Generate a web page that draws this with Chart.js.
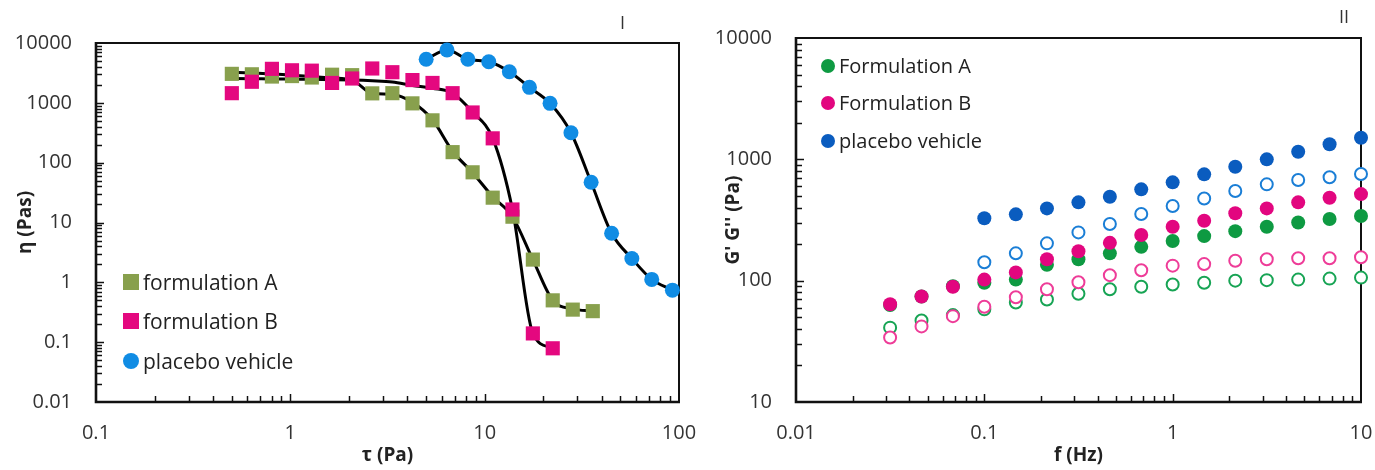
<!DOCTYPE html>
<html>
<head>
<meta charset="utf-8">
<title>Rheology</title>
<script src="https://cdn.jsdelivr.net/npm/chart.js@4.4.0/dist/chart.umd.min.js"></script>
<style>
  body { margin: 0; background: #fff; width: 1375px; height: 470px; position: relative; overflow: hidden; font-family: "Open Sans", sans-serif; }
  canvas { position: absolute; top: 0; }
  #flow { left: 0; }
  #osc { left: 700px; }
  .key { position: absolute; font-size: 20px; color: #222; line-height: 24px; white-space: nowrap; }
  .key.big { font-size: 21px; }
  .key i { position: absolute; }
  .tag { position: absolute; font-size: 18px; color: #333; line-height: 20px; }
</style>
</head>
<body>
<canvas id="flow" width="700" height="470"></canvas>
<canvas id="osc" width="675" height="470"></canvas>
<div class="tag" style="left:620px; top:12px;">I</div>
<div class="tag" style="left:1339px; top:6px;">II</div>
<div id="keys"></div>
<script>
// ---- panel I: viscosity vs shear stress ----
const tauA = [0.5, 0.634, 0.804, 1.02, 1.29, 1.64, 2.08, 2.64, 3.35, 4.25, 5.39, 6.84, 8.67, 11.0, 13.9, 17.7, 22.4, 28.4, 36.0];
const etaA = [3050, 3000, 2750, 2800, 2650, 2950, 2900, 1440, 1450, 980, 510, 150, 69, 26, 12.5, 2.4, 0.5, 0.35, 0.33];
const fitA = [3250, 3150, 3050, 2900, 2750, 2600, 2400, 1440, 1380, 1020, 520, 155, 68, 27, 12.5, 2.4, 0.5, 0.36, 0.33];

const tauB = [0.5, 0.634, 0.804, 1.02, 1.29, 1.64, 2.08, 2.64, 3.35, 4.25, 5.39, 6.84, 8.67, 11.0, 13.9, 17.7, 22.4];
const etaB = [1450, 2250, 3700, 3500, 3450, 2150, 2550, 3750, 3250, 2400, 2150, 1450, 690, 255, 16.5, 0.14, 0.079];
const fitB = [2550, 2530, 2510, 2490, 2470, 2440, 2400, 2330, 2220, 1950, 1750, 1450, 700, 255, 16.5, 0.14, 0.079];

const tauC = [5.0, 6.4, 8.2, 10.5, 13.4, 17.0, 21.7, 27.8, 35.3, 45, 57.2, 72.4, 92.5];
const etaC = [5340, 7640, 5340, 4860, 3310, 1815, 980, 316, 47, 6.6, 2.5, 1.12, 0.74];

const tauTicks = [0.1, 1, 10, 100];
const etaTicks = [0.01, 0.1, 1, 10, 100, 1000, 10000];

// ---- panel II: frequency sweep ----
const freq = [0.0316, 0.0464, 0.0681, 0.1, 0.147, 0.215, 0.316, 0.464, 0.681, 1, 1.47, 2.15, 3.16, 4.64, 6.81, 10];
const gpA = [63, 74, 90, 96, 102, 135, 150, 168, 190, 212, 233, 256, 278, 302, 322, 341];
const gppA = [41, 47, 52, 58, 66, 70, 78, 85, 89, 93, 96, 100, 101, 102, 104, 106];
const gpB = [64, 74, 89, 102, 117, 150, 175, 205, 238, 278, 312, 359, 394, 442, 482, 517];
const gppB = [34, 42, 51, 61, 73, 85, 97, 111, 122, 133, 137, 146, 150, 153, 153, 156];
const freqC = [0.1, 0.147, 0.215, 0.316, 0.464, 0.681, 1, 1.47, 2.15, 3.16, 4.64, 6.81, 10];
const gpC = [327, 352, 394, 442, 492, 566, 646, 752, 869, 1000, 1155, 1330, 1506];
const gppC = [142, 168, 203, 250, 293, 354, 412, 476, 548, 622, 675, 711, 757];

const freqTicks = [0.01, 0.1, 1, 10];
const modTicks = [10, 100, 1000, 10000];

const pts = (xs, ys) => xs.map((x, i) => ({ x: x, y: ys[i] }));

Chart.defaults.font.family = '"Open Sans", sans-serif';
Chart.defaults.color = '#333';

// box around the plot plus log ticks pointing inwards
const frame = {
  id: 'frame',
  beforeDatasetsDraw(chart) {
    const { ctx, chartArea: a, scales } = chart;
    const minor = (lo, hi) => {
      const out = [];
      for (let e = Math.floor(Math.log10(lo)); e <= Math.ceil(Math.log10(hi)); e++) {
        for (let k = 1; k < 10; k++) {
          const v = k * Math.pow(10, e);
          if (v > lo * 1.001 && v < hi * 0.999) out.push({ v: v, major: k === 1 });
        }
      }
      return out;
    };
    ctx.save();
    ctx.strokeStyle = '#111';
    ctx.lineWidth = 1.5;
    minor(scales.x.min, scales.x.max).forEach(t => {
      const p = Math.round(scales.x.getPixelForValue(t.v)) + 0.5;
      ctx.beginPath();
      ctx.moveTo(p, a.bottom);
      ctx.lineTo(p, a.bottom - (t.major ? 8 : 6));
      ctx.stroke();
    });
    minor(scales.y.min, scales.y.max).forEach(t => {
      const p = Math.round(scales.y.getPixelForValue(t.v)) + 0.5;
      ctx.beginPath();
      ctx.moveTo(a.left, p);
      ctx.lineTo(a.left + (t.major ? 8 : 6), p);
      ctx.stroke();
    });
    ctx.lineWidth = 2;
    ctx.beginPath();
    ctx.moveTo(a.left, a.top);
    ctx.lineTo(a.right, a.top);
    ctx.lineTo(a.right, a.bottom);
    ctx.stroke();
    ctx.lineWidth = 2.6;
    ctx.beginPath();
    ctx.moveTo(a.left, a.top - 1);
    ctx.lineTo(a.left, a.bottom);
    ctx.lineTo(a.right + 1, a.bottom);
    ctx.stroke();
    ctx.restore();
  }
};

function logAxis(lo, hi, ticks, title, titlePad, size, horizontal) {
  return {
    type: 'logarithmic',
    min: lo,
    max: hi,
    afterBuildTicks: s => { s.ticks = ticks.map(v => ({ value: v, major: true })); },
    afterFit: s => {
      // fixed axis band; end labels may hang over the page margins
      if (horizontal) s.height = size; else s.width = size;
      s.paddingLeft = 0; s.paddingRight = 0; s.paddingTop = 0; s.paddingBottom = 0;
    },
    grid: { display: false, drawTicks: false },
    border: { display: false },
    ticks: {
      padding: horizontal ? 19 : 24,
      font: { size: 20 },
      color: '#333',
      callback: v => String(v),
      autoSkip: false,
      maxRotation: 0
    },
    title: {
      display: true,
      text: title,
      font: { size: 19, weight: 'bold', lineHeight: 1.2 },
      color: '#222',
      padding: titlePad
    }
  };
}

const baseOpts = (pad, xAxis, yAxis) => ({
  responsive: false,
  animation: false,
  layout: { padding: pad },
  plugins: { legend: { display: false }, tooltip: { enabled: false } },
  scales: { x: xAxis, y: yAxis }
});

const green1 = '#88A04D', pink1 = '#E4087F', blue1 = '#108CE4';

const fitLine = (xs, ys, ord) => ({
  label: 'fit',
  data: pts(xs, ys),
  showLine: true,
  borderColor: '#000',
  borderWidth: 3,
  pointRadius: 0,
  cubicInterpolationMode: 'monotone',
  order: ord,
  clip: false
});

const flowSets = [
  fitLine(tauA, fitA, 10),
  fitLine(tauB, fitB, 9),
  fitLine(tauC, etaC, 8),
  { label: 'formulation A', data: pts(tauA, etaA), pointStyle: 'rect', pointRadius: 10, backgroundColor: green1, borderWidth: 0, order: 3, clip: false },
  { label: 'formulation B', data: pts(tauB, etaB), pointStyle: 'rect', pointRadius: 10, backgroundColor: pink1, borderWidth: 0, order: 2, clip: false },
  { label: 'placebo vehicle', data: pts(tauC, etaC), pointStyle: 'circle', pointRadius: 7.5, backgroundColor: blue1, borderWidth: 0, order: 1, clip: false }
];

new Chart(document.getElementById('flow'), {
  type: 'scatter',
  data: { datasets: flowSets },
  options: baseOpts({ top: 43, right: 21, left: 0, bottom: 0 },
    logAxis(0.1, 100, tauTicks, 'τ (Pa)', { top: 0, bottom: 3 }, 68, true),
    logAxis(0.01, 10000, etaTicks, 'η (Pas)', { top: 14, bottom: 0 }, 96, false)),
  plugins: [frame]
});

const green2 = '#0E9A42', pink2 = '#E2067F', blue2 = '#0A5CBF';
const greenO = '#17A454', pinkO = '#EE3C98', blueO = '#1A7ED6';

const dots = (label, xs, ys, col, ord) => ({
  label: label, data: pts(xs, ys), pointStyle: 'circle', pointRadius: 7,
  backgroundColor: col, borderColor: col, borderWidth: 0, order: ord, clip: false
});
const rings = (label, xs, ys, col, ord) => ({
  label: label, data: pts(xs, ys), pointStyle: 'circle', pointRadius: 6,
  backgroundColor: '#fff', borderColor: col, pointBorderWidth: 2, order: ord, clip: false
});

const oscSets = [
  dots('Formulation A', freq, gpA, green2, 4),
  dots('Formulation B', freq, gpB, pink2, 2),
  dots('placebo vehicle', freqC, gpC, blue2, 1),
  rings("Formulation A G''", freq, gppA, greenO, 6),
  rings("Formulation B G''", freq, gppB, pinkO, 5),
  rings("placebo vehicle G''", freqC, gppC, blueO, 3)
];

new Chart(document.getElementById('osc'), {
  type: 'scatter',
  data: { datasets: oscSets },
  options: baseOpts({ top: 38, right: 14, left: 0, bottom: 0 },
    logAxis(0.01, 10, freqTicks, 'f (Hz)', { top: 0, bottom: 3 }, 68, true),
    logAxis(10, 10000, modTicks, "G' G'' (Pa)", { top: 22, bottom: 0 }, 96, false)),
  plugins: [frame]
});

// legends placed inside the plot areas
const keys = document.getElementById('keys');
function addKey(x, y, set, shape, size, cls) {
  const d = document.createElement('div');
  d.className = 'key' + (cls ? ' ' + cls : '');
  d.style.left = (x + size / 2 + 4) + 'px';
  d.style.top = (y - 12) + 'px';
  d.textContent = set.label;
  const m = document.createElement('i');
  m.style.width = size + 'px';
  m.style.height = size + 'px';
  m.style.left = (-size - 4) + 'px';
  m.style.top = (12 - size / 2) + 'px';
  m.style.background = set.backgroundColor;
  if (shape === 'circle') m.style.borderRadius = '50%';
  d.appendChild(m);
  keys.appendChild(d);
}
addKey(131, 282, flowSets[3], 'rect', 16, 'big');
addKey(131, 321, flowSets[4], 'rect', 16, 'big');
addKey(131, 361, flowSets[5], 'circle', 16, 'big');
addKey(828, 66, oscSets[0], 'circle', 14);
addKey(828, 103, oscSets[1], 'circle', 14);
addKey(828, 141, oscSets[2], 'circle', 14);
</script>
</body>
</html>
